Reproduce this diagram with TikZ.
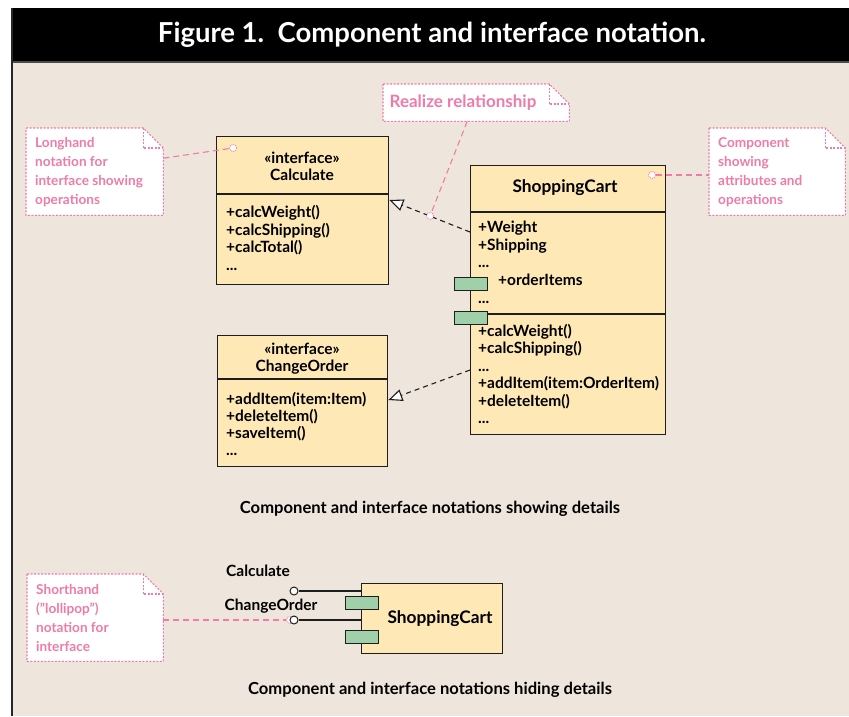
\documentclass[tikz,border=0pt]{standalone}
\usepackage{fontspec}
\setmainfont{Lato}
\usetikzlibrary{arrows.meta,positioning}
\definecolor{bgc}{HTML}{EEE6DC}
\definecolor{boxc}{HTML}{FDE8B6}
\definecolor{portc}{HTML}{9FD0A9}
\definecolor{pinkc}{HTML}{EF7BA6}
\definecolor{linec}{HTML}{1E1E1E}
\newcommand{\mdots}{...}
\newcommand{\dogear}[1]{%
  \draw[notebd] (#1.north west) -- ([xshift=-20pt]#1.north east) -- ([yshift=-20pt]#1.north east)
    -- (#1.south east) -- (#1.south west) -- cycle;
  \draw[notebd,fill=none] ([xshift=-20pt]#1.north east) -- ([xshift=-20pt,yshift=-20pt]#1.north east)
    -- ([yshift=-20pt]#1.north east);}
\tikzset{
  umlbox/.style={draw=linec,line width=1.4pt,fill=boxc,anchor=north west,inner sep=0pt},
  umlline/.style={linec,line width=1.4pt},
  port/.style={draw=linec,line width=1pt,fill=portc,anchor=north west,inner sep=0pt,minimum width=33pt,minimum height=13pt},
  member/.style={anchor=west,inner sep=0pt,font=\bfseries\fontsize{15.5}{17}\selectfont,text height=11pt,text depth=4pt},
  head/.style={inner sep=0pt,align=center,font=\bfseries\fontsize{15.5}{17}\selectfont},
  notearea/.style={anchor=north west,inner sep=0pt,draw=none},
  notetext/.style={anchor=north west,inner sep=0pt,align=left,text=pinkc,font=\bfseries\fontsize{13.6}{19}\selectfont},
  notebd/.style={draw=pinkc,line width=1.1pt,dash pattern=on 2pt off 1.5pt,fill=white},
  pinkln/.style={pinkc,line width=1.1pt,dash pattern=on 6pt off 4pt},
  pdot/.style={circle,draw=pinkc,fill=white,inner sep=0pt,minimum size=7pt,line width=0.8pt,dash pattern=on 1pt off 1pt},
  lolli/.style={circle,draw=linec,fill=white,inner sep=0pt,minimum size=8pt,line width=1pt},
  realize/.style={linec,line width=1.1pt,dash pattern=on 5pt off 4pt,-{Triangle[length=14pt,width=12pt,fill=white,line width=1.1pt]}},
  caption/.style={inner sep=0pt,font=\bfseries\fontsize{16.6}{18}\selectfont}
}
\begin{document}
\begin{tikzpicture}[x=1pt,y=-1pt]
\useasboundingbox (0,0) rectangle (849,716);
\fill[white] (0,0) rectangle (849,716);
\fill[bgc] (11,62) rectangle (849,716);
\fill[black] (11,8) rectangle (849,62);
\draw[gray!60!black,line width=1.5pt] (11,62) -- (849,62);
\draw[gray!30!black,line width=2pt] (11.5,8) -- (11.5,716);
\node[text=white,font=\bfseries\fontsize{27.5}{30}\selectfont] (title) at (432,35) {Figure 1.\ \ Component and interface notation.};

% interface Calculate
\node[umlbox,minimum width=172pt,minimum height=148pt] (calc) at (216,136) {};
\draw[umlline] (calc.west |- 0,194) -- (calc.east |- 0,194);
\node[head] (calchead) at (302,166) {«interface»\\Calculate};
\foreach \t [count=\i] in {+calcWeight(),+calcShipping(),+calcTotal(),\mdots}
  \node[member] (calcop\i) at (226,{214+17.5*(\i-1)}) {\t};

% interface ChangeOrder
\node[umlbox,minimum width=170pt,minimum height=131pt] (chg) at (217,335) {};
\draw[umlline] (chg.west |- 0,379) -- (chg.east |- 0,379);
\node[head] (chghead) at (302,359) {«interface»\\ChangeOrder};
\foreach \t [count=\i] in {+addItem(item:Item),+deleteItem(),+saveItem(),\mdots}
  \node[member] (chgop\i) at (226,{401+17*(\i-1)}) {\t};

% component ShoppingCart
\node[umlbox,minimum width=195pt,minimum height=269pt] (cart) at (470,165) {};
\draw[umlline] (cart.west |- 0,212) -- (cart.east |- 0,212);
\draw[umlline] (cart.west |- 0,314) -- (cart.east |- 0,314);
\node[head,font=\bfseries\fontsize{17.3}{19}\selectfont] (carthead) at (565,188) {ShoppingCart};
\foreach \t [count=\i] in {+Weight,+Shipping,\mdots}
  \node[member] (cartat\i) at (478,{229+17.5*(\i-1)}) {\t};
\node[member] (cartat4) at (498,282) {+orderItems};
\node[member] (cartat5) at (478,300) {\mdots};
\foreach \t [count=\i] in {+calcWeight(),+calcShipping(),\mdots,+addItem(item:OrderItem),+deleteItem(),\mdots}
  \node[member] (cartop\i) at (478,{333+17.4*(\i-1)}) {\t};
\node[port] (port1) at (454,277) {};
\node[port] (port2) at (454,311) {};

% realize arrows
\draw[realize] (cart.west |- 0,232) -- (calc.east |- 0,200);
\draw[realize] (cart.west |- 0,370) -- (chg.east |- 0,400);

% notes
\node[notearea,minimum width=137pt,minimum height=87pt] (n1) at (26,128) {};
\dogear{n1}
\node[notetext] (n1t) at (35,137) {Longhand\\notation for\\interface showing\\operations};
\node[pdot] (d1) at (233,148) {};
\draw[pinkln] ([yshift=13.5pt]n1.east) -- (d1);

\node[notearea,minimum width=186pt,minimum height=37pt] (n2) at (383,84) {};
\dogear{n2}
\node[inner sep=0pt,text=pinkc,font=\bfseries\fontsize{17}{19}\selectfont] (n2t) at (463,103) {Realize relationship};
\node[pdot] (d2) at (430,216) {};
\draw[pinkln] ([xshift=-9pt]n2.south) -- (d2);

\node[notearea,minimum width=136pt,minimum height=87pt] (n3) at (709,128) {};
\dogear{n3}
\node[notetext] (n3t) at (718,137) {Component\\showing\\attributes and\\operations};
\node[pdot] (d3) at (652,175) {};
\draw[pinkln] (d3) -- (n3.west |- d3);

\node[caption] (cap1) at (430,509) {Component and interface notations showing details};

% lollipop notation
\node[umlbox,minimum width=141pt,minimum height=70pt] (cart2) at (361,583) {};
\node[port] (port3) at (345,596) {};
\node[port] (port4) at (345,630) {};
\node[head,font=\bfseries\fontsize{17.3}{19}\selectfont] (cart2head) at (440,619) {ShoppingCart};
\node[lolli] (lp1) at (294,591) {};
\node[pdot] (d4) at (290,620) {};
\node[lolli] (lp2) at (294,620) {};
\draw[linec,line width=1.2pt] (lp1) -- (cart2.west |- lp1);
\draw[linec,line width=1.2pt] (lp2) -- (cart2.west |- lp2);
\node[member,anchor=center] (lp1t) at (258,573) {Calculate};
\node[member,anchor=center] (lp2t) at (271,607) {ChangeOrder};

\node[notearea,minimum width=136pt,minimum height=87pt] (n4) at (27,574) {};
\dogear{n4}
\node[notetext] (n4t) at (36,584) {Shorthand\\("lollipop")\\notation for\\interface};
\draw[pinkln] (n4.east |- d4) -- (d4);

\node[caption] (cap2) at (430,690) {Component and interface notations hiding details};
\end{tikzpicture}
\end{document}
